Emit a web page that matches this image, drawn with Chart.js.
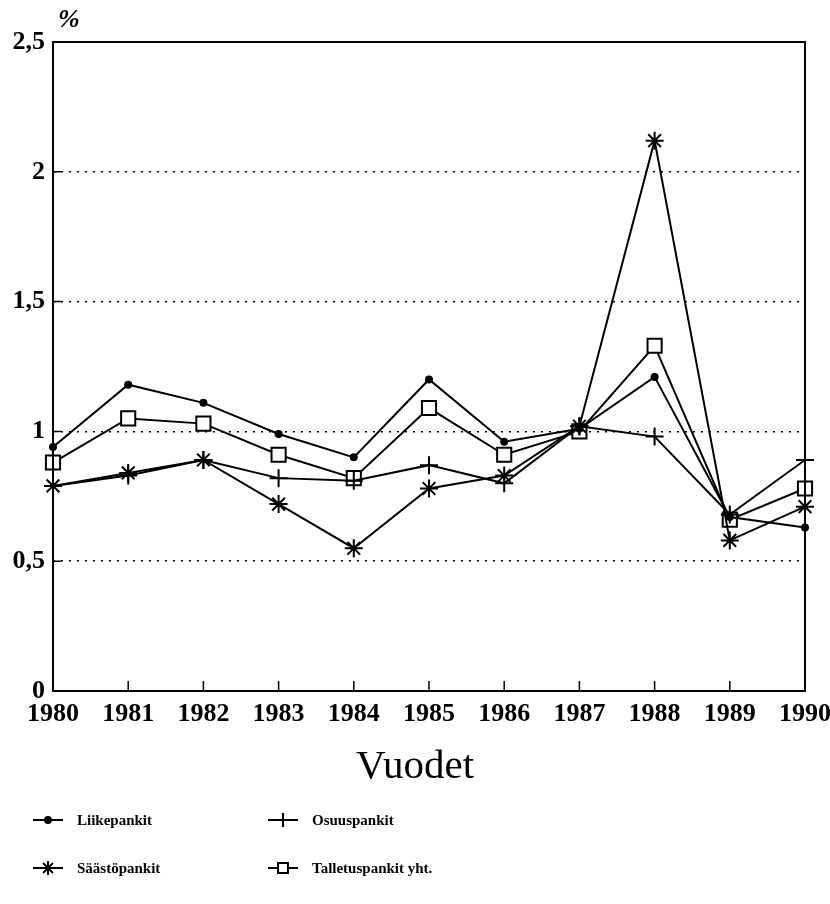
<!DOCTYPE html>
<html>
<head>
<meta charset="utf-8">
<script src="https://cdn.jsdelivr.net/npm/chart.js@4/dist/chart.umd.min.js"></script>
<style>
  html, body { margin: 0; background: #fff; }
</style>
</head>
<body>
<canvas id="chart" width="830" height="904"></canvas>
<script>
// vuodet ja sarjat luettu kuvasta (%)
const years = ["1980", "1981", "1982", "1983", "1984", "1985", "1986", "1987", "1988", "1989", "1990"];
const liikepankit = [0.94, 1.18, 1.11, 0.99, 0.90, 1.20, 0.96, 1.01, 1.21, 0.67, 0.63];
const osuuspankit = [0.79, 0.83, 0.89, 0.82, 0.81, 0.87, 0.80, 1.02, 0.98, 0.68, 0.89];
const saastopankit = [0.79, 0.84, 0.89, 0.72, 0.55, 0.78, 0.83, 1.02, 2.12, 0.58, 0.71];
const talletuspankit = [0.88, 1.05, 1.03, 0.91, 0.82, 1.09, 0.91, 1.00, 1.33, 0.66, 0.78];
const seriesNames = ["Liikepankit", "Osuuspankit", "Säästöpankit", "Talletuspankit yht."];
const xTitle = "Vuodet";
const yUnit = "%";
const yMin = 0, yMax = 2.5, yStep = 0.5;

const SERIF = "'Liberation Serif', 'Times New Roman', serif";

function series(label, data, style, radius, bg) {
  return {
    label: label,
    data: data,
    borderColor: "#000",
    borderWidth: 2,
    pointStyle: style,
    pointRadius: radius,
    pointBorderWidth: 2,
    pointBorderColor: "#000",
    pointBackgroundColor: bg,
    tension: 0,
    fill: false
  };
}

// kehys, sisäänpäin osoittavat jakoviivat, otsikot ja selite
const framePlugin = {
  id: "frame",
  afterDraw(chart) {
    const ctx = chart.ctx;
    const a = chart.chartArea;
    const x = chart.scales.x, y = chart.scales.y;
    ctx.save();
    ctx.strokeStyle = "#000";
    ctx.lineWidth = 2;
    ctx.strokeRect(a.left, a.top, a.right - a.left, a.bottom - a.top);

    ctx.lineWidth = 1.5;
    ctx.beginPath();
    for (let i = 1; i < years.length - 1; i++) {
      const px = x.getPixelForTick(i);
      ctx.moveTo(px, a.bottom);
      ctx.lineTo(px, a.bottom - 10);
    }
    for (let v = yMin + yStep; v < yMax; v += yStep) {
      const py = y.getPixelForValue(v);
      ctx.moveTo(a.left, py);
      ctx.lineTo(a.left + 8, py);
    }
    ctx.stroke();

    ctx.fillStyle = "#000";
    ctx.font = "bold italic 26px " + SERIF;
    ctx.textAlign = "left";
    ctx.textBaseline = "alphabetic";
    ctx.fillText(yUnit, a.left + 5, a.top - 15);

    ctx.font = "41px " + SERIF;
    ctx.textAlign = "center";
    ctx.fillText(xTitle, chart.width / 2, a.bottom + 87);

    // selite kahteen sarakkeeseen
    const colX = [33, 268];
    const rowY = [820, 868];
    ctx.font = "bold 15px " + SERIF;
    ctx.textAlign = "left";
    ctx.textBaseline = "middle";
    chart.data.datasets.forEach((ds, i) => {
      const lx = colX[i % 2];
      const ly = rowY[Math.floor(i / 2)];
      ctx.strokeStyle = "#000";
      ctx.lineWidth = 2;
      ctx.beginPath();
      ctx.moveTo(lx, ly);
      ctx.lineTo(lx + 30, ly);
      ctx.stroke();
      ctx.fillStyle = ds.pointBackgroundColor;
      Chart.helpers.drawPoint(ctx, {
        pointStyle: ds.pointStyle,
        radius: Math.min(ds.pointRadius, 7),
        rotation: 0,
        borderWidth: 2
      }, lx + 15, ly);
      ctx.fillStyle = "#000";
      ctx.fillText(ds.label, lx + 44, ly + 1);
    });
    ctx.restore();
  }
};

new Chart(document.getElementById("chart"), {
  type: "line",
  data: {
    labels: years,
    datasets: [
      series(seriesNames[0], liikepankit, "circle", 3, "#000"),
      series(seriesNames[1], osuuspankit, "cross", 9, "#fff"),
      series(seriesNames[2], saastopankit, "star", 9, "#fff"),
      series(seriesNames[3], talletuspankit, "rect", 10, "#fff")
    ]
  },
  options: {
    responsive: false,
    animation: false,
    devicePixelRatio: 1,
    layout: { padding: { top: 42, right: 25, bottom: 113, left: 0 } },
    plugins: {
      legend: { display: false },
      tooltip: { enabled: false }
    },
    scales: {
      x: {
        offset: false,
        grid: { display: false, drawTicks: false },
        border: { display: false },
        ticks: {
          color: "#000",
          padding: 8,
          maxRotation: 0,
          autoSkip: false,
          font: { family: SERIF, size: 26, weight: "bold" }
        },
        afterFit(s) {
          s.height = 100;
          s.paddingRight = 25;
        }
      },
      y: {
        min: yMin,
        max: yMax,
        grid: {
          drawTicks: false,
          lineWidth: 1.6,
          color: c => (c.tick && (c.tick.value === yMin || c.tick.value === yMax)) ? "rgba(0,0,0,0)" : "#000"
        },
        border: { display: false, dash: [2, 6] },
        ticks: {
          stepSize: yStep,
          color: "#000",
          padding: 8,
          font: { family: SERIF, size: 26, weight: "bold" },
          callback: v => String(v).replace(".", ",")
        },
        afterFit(s) { s.width = 53; }
      }
    }
  },
  plugins: [framePlugin]
});
</script>
</body>
</html>
